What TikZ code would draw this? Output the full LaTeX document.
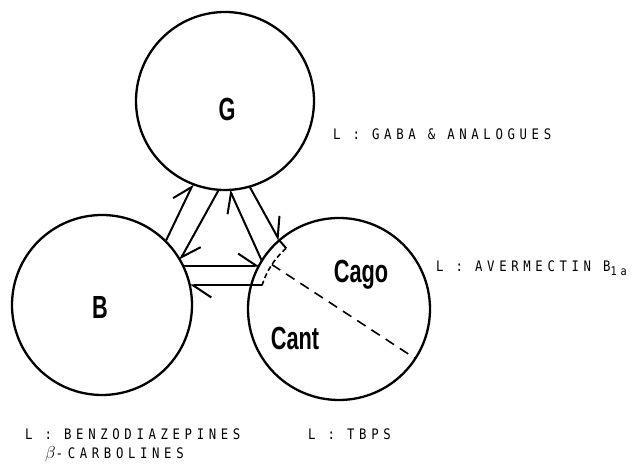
\documentclass[tikz,border=0pt]{standalone}
\usepackage{fontspec}
\newfontfamily\lblfont[LetterSpace=32,FakeStretch=0.85]{DejaVu Sans Mono}
\newfontfamily\bigfont[FakeStretch=0.68]{Liberation Sans}
\usetikzlibrary{arrows.meta,calc}

\begin{document}
\begin{tikzpicture}[x=1pt,y=1pt,
  site/.style={circle, draw, line width=2.3pt, inner sep=0pt, outer sep=0pt, minimum size=#1},
  harp/.style={line width=2pt, -{Straight Barb[harpoon,length=18pt,width=24pt]}},
  big/.style={font=\bigfont\bfseries\fontsize{32}{32}\selectfont, inner sep=0pt, anchor=base},
  lbl/.style={font=\lblfont\fontsize{14.5}{14.5}\selectfont, inner sep=0pt, anchor=base west},
  split/.style={line width=1.6pt, dash pattern=on 10pt off 7pt},
  rim/.style={line width=1.6pt, dash pattern=on 5pt off 3pt},
]
\useasboundingbox (0,0) rectangle (641,469);

% the three sites
\node[site=178pt] (G) at (225,368) {};
\node[site=180pt] (B) at (102,164) {};
\node[site=182pt] (C) at (339,160) {};

% site letters
\node[big] (tG) at (227,348) {G};
\node[big] (tB) at (100,150) {B};
\node[big] (tCago) at (361,186) {Cago};
\node[big] (tCant) at (295,119) {Cant};

% band on the rim of C
\coordinate (bandTopOut) at ($(C.center)+(131:91)$);
\coordinate (bandTopIn) at ($(C.center)+(131:80.5)$);
\coordinate (bandBotIn) at ($(C.center)+(163:80.5)$);
\coordinate (splitStart) at ($(C.center)+(146.5:80.5)$);
\draw[line width=2pt] (bandTopOut) -- (bandTopIn);
\draw[rim] (bandTopIn) arc[start angle=131, end angle=163, radius=80.5];

% agonist / antagonist division
\draw[split] (splitStart) -- (C.-33.5);

% couplings between sites
\draw[harp] (B.45) -- (G.-111);
\draw[harp] (G.-94) -- (B.30);
\draw[harp] (C.148) -- (G.-87);
\draw[harp] (G.-74) -- (C.131);
\draw[harp] (B.26) -- (B.26 -| C.151);
\draw[harp] (bandBotIn) -- (bandBotIn -| B.12);

% ligand labels
\node[lbl] (lG) at (333,329) {L : GABA \& ANALOGUES};
\node[lbl] (lC) at (436,197) {L : AVERMECTIN B\raisebox{-4pt}{\fontsize{12}{12}\selectfont 1a}};
\node[lbl] (lB) at (25,29) {L : BENZODIAZEPINES};
\node[lbl] (lB2) at (45,10) {{\fontsize{17}{17}\selectfont$\beta$}-CARBOLINES};
\node[lbl] (lT) at (308,29) {L : TBPS};
\end{tikzpicture}
\end{document}
